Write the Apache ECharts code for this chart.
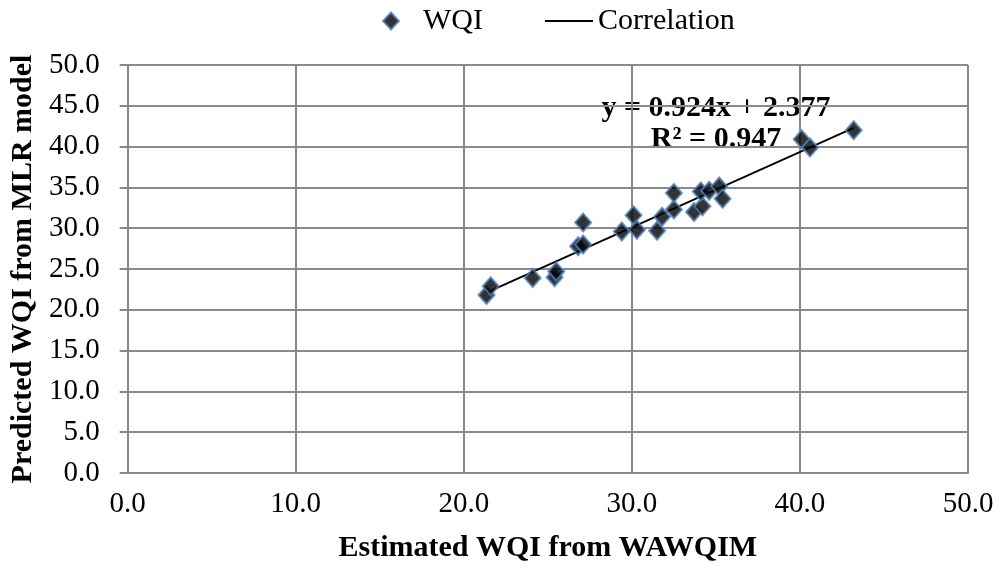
<!DOCTYPE html>
<html>
<head>
<meta charset="utf-8">
<script src="https://cdn.jsdelivr.net/npm/echarts@6/dist/echarts.min.js"></script>
<style>
  html, body { margin: 0; padding: 0; background: #fff; }
  #chart { width: 999px; height: 568px; }
</style>
</head>
<body>
<div id="chart"></div>
<script>
// WAWQIM 估算值 (x) 与 MLR 预测值 (y)
var estimatedWQI = [21.35, 21.6, 24.1, 25.4, 25.5, 26.8, 27.1, 27.1, 29.4, 30.1, 30.3, 31.5,
  31.8, 32.5, 32.5, 33.7, 34.2, 34.1, 34.6, 35.2, 35.4, 40.1, 40.6, 43.2];
var predictedWQI = [21.8, 22.9, 23.9, 24.0, 24.7, 27.8, 28.0, 30.7, 29.6, 31.6, 29.8, 29.7,
  31.4, 32.3, 34.3, 32.0, 32.7, 34.5, 34.6, 35.1, 33.6, 40.9, 39.9, 42.0];
// 趋势线 y = 0.924x + 2.377
var slope = 0.924;
var intercept = 2.377;
var trendX = [21.35, 43.2];

var serif = '"Liberation Serif", "Times New Roman", serif';

var chart = echarts.init(document.getElementById('chart'));

var wqiData = estimatedWQI.map(function (x, i) { return [x, predictedWQI[i]]; });
var trendData = trendX.map(function (x) { return [x, slope * x + intercept]; });

chart.setOption({
  animation: false,
  legend: [
    {
      data: [{ name: 'WQI', icon: 'diamond' }],
      left: 382, top: 6, padding: 0,
      itemWidth: 16, itemHeight: 17,
      textStyle: { fontFamily: serif, fontSize: 30, color: '#000', padding: [0, 0, 0, 19] }
    },
    {
      data: [{ name: 'Correlation', icon: 'rect' }],
      left: 545, top: 6, padding: 0,
      itemWidth: 48, itemHeight: 2,
      textStyle: { fontFamily: serif, fontSize: 30, color: '#000' }
    }
  ],
  grid: { left: 126, right: 31, top: 65, bottom: 95 },
  xAxis: {
    type: 'value', min: 0, max: 50, interval: 10,
    name: 'Estimated WQI from WAWQIM',
    nameLocation: 'middle', nameGap: 60,
    nameTextStyle: { fontFamily: serif, fontSize: 30, fontWeight: 'bold', color: '#000' },
    axisLine: { show: true, lineStyle: { color: '#888', width: 2 } },
    axisTick: { show: false },
    axisLabel: {
      fontFamily: serif, fontSize: 29, color: '#000', margin: 17,
      formatter: function (v) { return v.toFixed(1); }
    },
    splitLine: { show: true, lineStyle: { color: '#8a8a8a', width: 2 } }
  },
  yAxis: {
    type: 'value', min: 0, max: 50, interval: 5,
    name: 'Predicted WQI from MLR model',
    nameLocation: 'middle', nameGap: 88, nameRotate: 90,
    nameTextStyle: { fontFamily: serif, fontSize: 30, fontWeight: 'bold', color: '#000' },
    axisLine: { show: true, lineStyle: { color: '#888', width: 2 } },
    axisTick: { show: true, length: 8, lineStyle: { color: '#888', width: 2 } },
    axisLabel: {
      fontFamily: serif, fontSize: 29, color: '#000', margin: 28,
      formatter: function (v) { return v.toFixed(1); }
    },
    splitLine: { show: true, lineStyle: { color: '#8a8a8a', width: 2 } }
  },
  series: [
    {
      name: 'WQI',
      type: 'scatter',
      symbol: 'diamond',
      symbolSize: [16, 18],
      itemStyle: { color: '#000', borderColor: '#4f81bd', borderWidth: 2 },
      data: wqiData,
      z: 3
    },
    {
      name: 'Correlation',
      type: 'line',
      symbol: 'none',
      lineStyle: { color: '#000', width: 1.8 },
      itemStyle: { color: '#000' },
      data: trendData,
      z: 2
    }
  ],
  graphic: [
    {
      type: 'text', x: 716, y: 93,
      style: { text: 'y = 0.924x + 2.377', font: 'bold 30px ' + serif, fill: '#000',
        textAlign: 'center', textVerticalAlign: 'top' }
    },
    {
      type: 'text', x: 716, y: 124,
      style: { text: 'R² = 0.947', font: 'bold 30px ' + serif, fill: '#000',
        textAlign: 'center', textVerticalAlign: 'top' }
    }
  ]
});
</script>
</body>
</html>
